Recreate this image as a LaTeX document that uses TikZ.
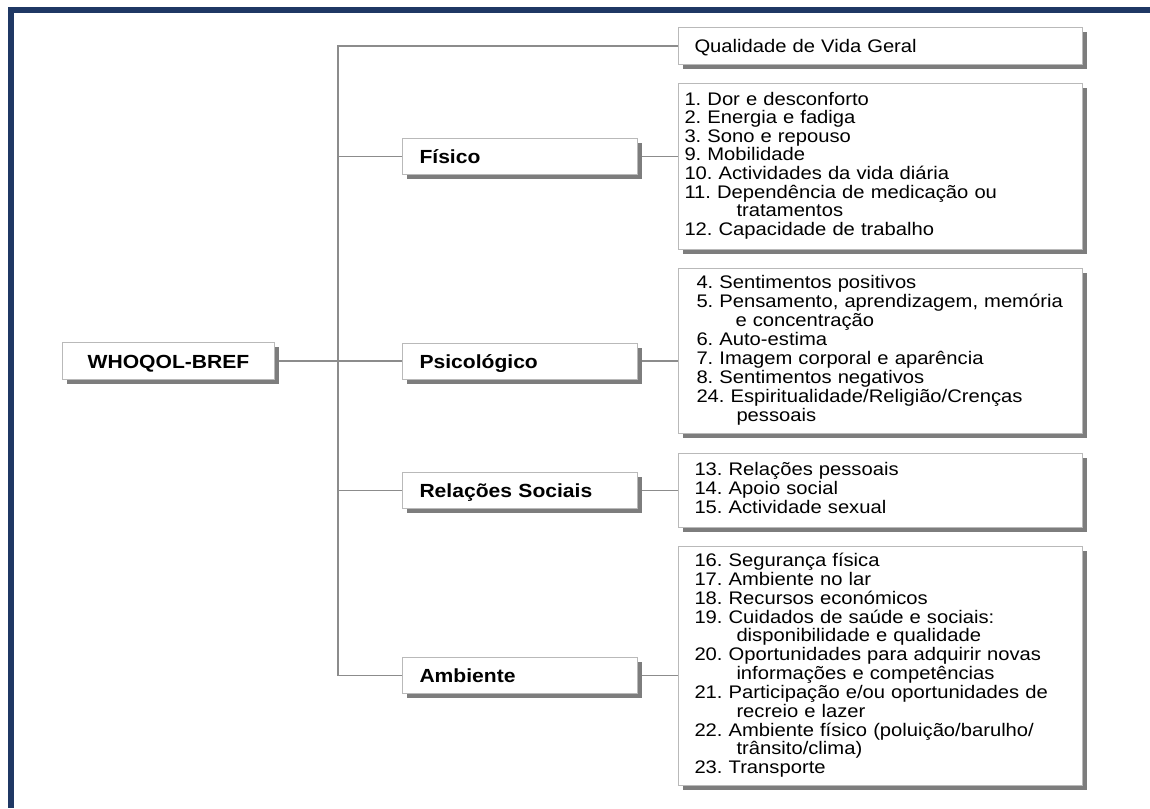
\documentclass[tikz,border=0pt]{standalone}
\usepackage{fontspec}
\setmainfont[FakeStretch=1.11]{Liberation Sans}
\frenchspacing
\usetikzlibrary{shadows}
\definecolor{navy}{RGB}{31,56,100}
\definecolor{connc}{RGB}{140,140,140}
\definecolor{boxline}{RGB}{185,185,185}
\definecolor{shadowc}{RGB}{125,125,125}
\pgfdeclarelayer{background}
\pgfsetlayers{background,main}
\tikzset{
  conn/.style={draw=connc, line width=1.5pt},
  basebox/.style={rectangle, draw=boxline, line width=1pt, fill=white, anchor=north west,
    inner ysep=0pt,
    general shadow={fill=shadowc, shadow xshift=4.5pt, shadow yshift=-4.5pt}},
  catbox/.style={basebox, minimum height=36pt, text width=201pt, inner xsep=17pt, align=left,
    font=\fontsize{19}{20}\selectfont\bfseries, text height=16pt, text depth=2pt},
  listbox/.style={basebox, align=left},
}
\begin{document}
\begin{tikzpicture}[x=1pt, y=-1pt]
\useasboundingbox (0,0) rectangle (1150,808);
\begin{pgfonlayer}{background}
  \fill[white] (0,0) rectangle (1150,808);
\end{pgfonlayer}
\fill[navy] (8,7) rectangle (14,808);
\fill[navy] (8,7) rectangle (1150,13);

\coordinate (trunk) at (338,0);

% root
\node[catbox, text width=178pt, align=center, minimum height=37pt] (who) at (62,342) {WHOQOL-BREF};

% domains
\node[catbox] (fis) at (402,138) {Físico};
\node[catbox] (psi) at (402,342.5) {Psicológico};
\node[catbox] (rel) at (402,472) {Relações Sociais};
\node[catbox] (amb) at (402,657) {Ambiente};

% general quality
\node[basebox, minimum height=37pt, inner xsep=16pt, text width=372pt, align=left,
  font=\fontsize{18.2}{18.5}\selectfont, text height=15pt, text depth=2pt]
  (qual) at (678,27) {Qualidade de Vida Geral};

% facet lists
\node[listbox, minimum height=166pt, inner xsep=6pt, text width=392pt,
  font=\fontsize{18.2}{18.4}\selectfont] (fislist) at (678,83) {%
\begin{tabular}{@{}l@{}}
1. Dor e desconforto\\
2. Energia e fadiga\\
3. Sono e repouso\\
9. Mobilidade\\
10. Actividades da vida diária\\
11. Dependência de medicação ou\\
\hspace*{52pt}tratamentos\\
12. Capacidade de trabalho
\end{tabular}};

\node[listbox, minimum height=165pt, inner xsep=18pt, text width=368pt,
  font=\fontsize{18.2}{18.9}\selectfont] (psilist) at (678,268) {%
\begin{tabular}{@{}l@{}}
4. Sentimentos positivos\\
5. Pensamento, aprendizagem, memória\\
\hspace*{39pt}e concentração\\
6. Auto-estima\\
7. Imagem corporal e aparência\\
8. Sentimentos negativos\\
24. Espiritualidade/Religião/Crenças\\
\hspace*{40pt}pessoais
\end{tabular}};

\node[listbox, minimum height=74pt, inner xsep=16pt, text width=372pt,
  font=\fontsize{18.2}{18.3}\selectfont] (rellist) at (678,453) {%
\begin{tabular}{@{}l@{}}
13. Relações pessoais\\
14. Apoio social\\
15. Actividade sexual
\end{tabular}};

\node[listbox, minimum height=239pt, inner xsep=16pt, text width=372pt,
  font=\fontsize{18.2}{18.6}\selectfont] (amblist) at (678,546) {%
\begin{tabular}{@{}l@{}}
16. Segurança física\\
17. Ambiente no lar\\
18. Recursos económicos\\
19. Cuidados de saúde e sociais:\\
\hspace*{42pt}disponibilidade e qualidade\\
20. Oportunidades para adquirir novas\\
\hspace*{42pt}informações e competências\\
21. Participação e/ou oportunidades de\\
\hspace*{42pt}recreio e lazer\\
22. Ambiente físico (poluição/barulho/\\
\hspace*{42pt}trânsito/clima)\\
23. Transporte
\end{tabular}};

% connectors
\begin{pgfonlayer}{background}
  \draw[conn] (qual.west) -- (qual.west -| trunk) -- (amb.west -| trunk) -- (amb.west);
  \draw[conn] (fis.west -| trunk) -- (fis.west);
  \draw[conn] (rel.west -| trunk) -- (rel.west);
  \draw[conn] (who.east) -- (psi.west);
  \draw[conn] (fis.east) -- (fis.east -| fislist.west);
  \draw[conn] (psi.east) -- (psi.east -| psilist.west);
  \draw[conn] (rel.east) -- (rel.east -| rellist.west);
  \draw[conn] (amb.east) -- (amb.east -| amblist.west);
\end{pgfonlayer}
\end{tikzpicture}
\end{document}
